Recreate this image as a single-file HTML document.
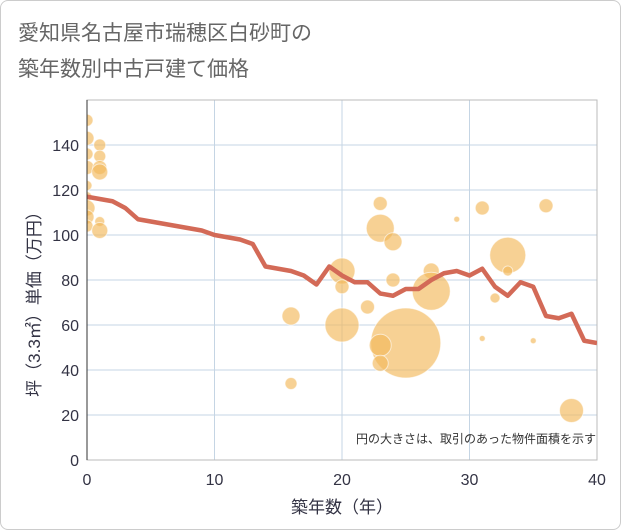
<!DOCTYPE html>
<html><head><meta charset="utf-8"><style>
body{margin:0;background:#fff;font-family:"Liberation Sans","Noto Sans CJK JP",sans-serif;}
#wrap{position:relative;width:619px;height:528px;border:1px solid #ccc;border-radius:8px;overflow:hidden;}
</style></head><body>
<div id="wrap">
<svg id="svg" width="621" height="530" style="position:absolute;left:-1px;top:-1px">
<defs><clipPath id="pc"><rect x="87" y="100" width="510" height="360"/></clipPath></defs>
<text x="18" y="40" font-size="21" fill="#666">愛知県名古屋市瑞穂区白砂町の</text>
<text x="18" y="76" font-size="21" fill="#666">築年数別中古戸建て価格</text>
<g id="grid"></g>
<g id="bubbles" clip-path="url(#pc)"></g>
<g id="line" clip-path="url(#pc)"></g>
<g id="axes"></g>
<text x="596" y="443" font-size="12" fill="#333" text-anchor="end">円の大きさは、取引のあった物件面積を示す</text>
<text x="342" y="513" font-size="17" fill="#334" text-anchor="middle">築年数（年）</text>
<text transform="translate(40,300) rotate(-90)" font-size="17" fill="#334" text-anchor="middle">坪（3.3㎡）単価（万円）</text>
</svg>
</div>
<script>
const xTicks=[0,10,20,30,40];
const yTicks=[0,20,40,60,80,100,120,140];
const lineYears=[0,1,2,3,4,5,6,7,8,9,10,11,12,13,14,15,16,17,18,19,20,21,22,23,24,25,26,27,28,29,30,31,32,33,34,35,36,37,38,39,40];
const lineValues=[117,116,115,112,107,106,105,104,103,102,100,99,98,96,86,85,84,82,78,86,82,79,79,74,73,76,76,80,83,84,82,85,77,73,79,77,64,63,65,53,52];
const bubbleYears=[0,0,0,0,0,0,0,0,0,1,1,1,1,1,1,23,23,24,20,20,24,27,27,16,20,22,25,23,23,16,29,31,33,33,32,36,31,35,38];
const bubbleValues=[151,143,136,130,122,117,112,108,104,140,135,130,128,106,102,114,103,97,84,77,80,84,75,64,60,68,52,51,43,34,107,112,91,84,72,113,54,53,22];
const bubbleSizes=[6,7,6,7,5,5,8,7,6,6,6,7,8,5,8,7,14,9,13,7,7,8,19,9,17,7,35,11,8,6,3,7,18,5,5,7,3,3,12];
const NS="http://www.w3.org/2000/svg";
const X0=87,X1=597,Y0=460,YT=100;
const xs=v=>X0+(v/40)*(X1-X0);
const ys=v=>Y0-v*2.25;
function mk(tag,attrs,parent){const e=document.createElementNS(NS,tag);for(const k in attrs)e.setAttribute(k,attrs[k]);parent.appendChild(e);return e;}
const grid=document.getElementById('grid'),axes=document.getElementById('axes');
yTicks.forEach(t=>{
 const l=mk('line',{x1:X0,x2:X1,y1:ys(t),y2:ys(t),stroke:'#c5d5e4','stroke-width':1},grid);
 
 
 const tx=mk('text',{x:X0-8,y:ys(t)+6,'font-size':16,fill:'#334','text-anchor':'end'},axes);
 tx.textContent=t;
 
 
});
xTicks.forEach(t=>{
 const l=mk('line',{x1:xs(t),x2:xs(t),y1:YT,y2:Y0,stroke:'#c5d5e4','stroke-width':1},grid);
 
 
 const tx=mk('text',{x:xs(t),y:Y0+25,'font-size':16,fill:'#334','text-anchor':'middle'},axes);
 tx.textContent=t;
 
 
});
const fr=mk('rect',{x:X0,y:YT,width:X1-X0,height:Y0-YT,fill:'none',stroke:'#bbb','stroke-width':1},grid);


const ax=mk('line',{x1:X0,x2:X0,y1:YT,y2:Y0,stroke:'#333','stroke-width':1},axes);


const bg=document.getElementById('bubbles');
bubbleYears.forEach((yr,i)=>{
 const c=mk('circle',{cx:xs(yr),cy:ys(bubbleValues[i]),r:bubbleSizes[i],fill:'#f2b85a','fill-opacity':0.65,stroke:'#fff','stroke-opacity':0.6,'stroke-width':1},bg);
 
 
});
const pts=lineYears.map((yr,i)=>xs(yr)+','+ys(lineValues[i])).join(' ');
const pl=mk('polyline',{points:pts,fill:'none',stroke:'#d36a57','stroke-width':4.5,'stroke-linejoin':'round'},document.getElementById('line'));


</script>
</body></html>
